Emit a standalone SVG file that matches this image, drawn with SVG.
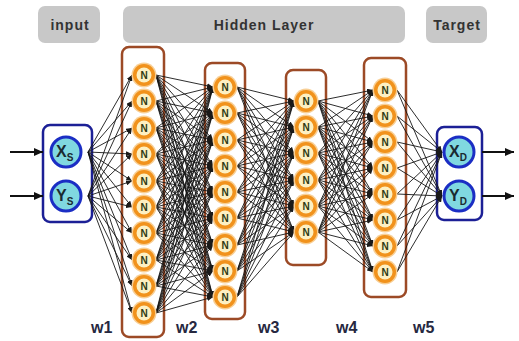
<svg xmlns="http://www.w3.org/2000/svg" width="519" height="341" viewBox="0 0 519 341">
<style>
.hdr{fill:#c8c8c8}
.ht{font-family:"Liberation Sans",Arial,sans-serif;font-weight:bold;font-size:14px;fill:#333;text-anchor:middle;letter-spacing:1px}
.lay{fill:#fff;stroke:#9c4a26;stroke-width:2.5}
.io{fill:#fff;stroke:#1c2096;stroke-width:2.5}
.halo{fill:#f8cf95}
.ring{fill:#f1921c}
.core{fill:#fdf0c2}
.nt{font-family:"Liberation Sans",Arial,sans-serif;font-weight:bold;font-size:10px;fill:#2f3a12;text-anchor:middle}
.ion{fill:#80d8e0;stroke:#1b2ec4;stroke-width:3}
.iot{font-family:"Liberation Sans",Arial,sans-serif;font-weight:bold;font-size:16px;fill:#1a2a30}
.sub{font-size:10px}
.w{font-family:"Liberation Sans",Arial,sans-serif;font-weight:bold;font-size:16px;fill:#262840}
#edges line{stroke:#151515;stroke-width:0.9;marker-end:url(#ah)}
.arr{stroke:#111;stroke-width:2;marker-end:url(#big)}
</style>
<defs>
<marker id="ah" markerUnits="userSpaceOnUse" markerWidth="6" markerHeight="5" refX="6" refY="2.5" orient="auto"><path d="M0,0L6,2.5L0,5z" fill="#1a1a1a"/></marker>
<marker id="big" markerUnits="userSpaceOnUse" markerWidth="9" markerHeight="8" refX="9" refY="4" orient="auto"><path d="M0,0L9,4L0,8z" fill="#111"/></marker>
<g id="nn"><circle r="12.5" class="halo"/><circle r="11" class="ring"/><circle r="7.5" class="core"/><text y="3.6" class="nt">N</text></g>
</defs>
<rect width="519" height="341" fill="#fff"/>
<g id="headers">
<g id="h-input"><rect class="hdr" x="38" y="6" width="62" height="37" rx="7"/><text class="ht" x="70" y="30">input</text></g>
<g id="h-hidden"><rect class="hdr" x="123" y="6" width="282" height="37" rx="7"/><text class="ht" x="264" y="30">Hidden Layer</text></g>
<g id="h-target"><rect class="hdr" x="426" y="6" width="61" height="37" rx="7"/><text class="ht" x="457" y="30">Target</text></g>
</g>
<g id="boxes">
<rect class="io" x="43" y="125" width="49" height="97" rx="7"/>
<rect class="lay" x="122" y="47" width="42" height="290" rx="7"/>
<rect class="lay" x="205" y="63" width="40" height="256" rx="7"/>
<rect class="lay" x="286" y="70" width="40" height="195" rx="7"/>
<rect class="lay" x="364" y="58" width="42" height="239" rx="7"/>
<rect class="io" x="437" y="127" width="45" height="93" rx="7"/>
</g>
<g id="edges">
<line x1="88" y1="152" x2="132" y2="75"/><line x1="88" y1="152" x2="132" y2="101"/><line x1="88" y1="152" x2="132" y2="128"/><line x1="88" y1="152" x2="132" y2="154"/><line x1="88" y1="152" x2="132" y2="181"/><line x1="88" y1="152" x2="132" y2="207"/><line x1="88" y1="152" x2="132" y2="233"/><line x1="88" y1="152" x2="132" y2="260"/><line x1="88" y1="152" x2="132" y2="286"/><line x1="88" y1="152" x2="132" y2="313"/>
<line x1="88" y1="196" x2="132" y2="75"/><line x1="88" y1="196" x2="132" y2="101"/><line x1="88" y1="196" x2="132" y2="128"/><line x1="88" y1="196" x2="132" y2="154"/><line x1="88" y1="196" x2="132" y2="181"/><line x1="88" y1="196" x2="132" y2="207"/><line x1="88" y1="196" x2="132" y2="233"/><line x1="88" y1="196" x2="132" y2="260"/><line x1="88" y1="196" x2="132" y2="286"/><line x1="88" y1="196" x2="132" y2="313"/>
<line x1="156" y1="75" x2="213" y2="87"/><line x1="156" y1="75" x2="213" y2="113"/><line x1="156" y1="75" x2="213" y2="140"/><line x1="156" y1="75" x2="213" y2="166"/><line x1="156" y1="75" x2="213" y2="192"/><line x1="156" y1="75" x2="213" y2="218"/><line x1="156" y1="75" x2="213" y2="245"/><line x1="156" y1="75" x2="213" y2="271"/><line x1="156" y1="75" x2="213" y2="297"/>
<line x1="156" y1="101" x2="213" y2="87"/><line x1="156" y1="101" x2="213" y2="113"/><line x1="156" y1="101" x2="213" y2="140"/><line x1="156" y1="101" x2="213" y2="166"/><line x1="156" y1="101" x2="213" y2="192"/><line x1="156" y1="101" x2="213" y2="218"/><line x1="156" y1="101" x2="213" y2="245"/><line x1="156" y1="101" x2="213" y2="271"/><line x1="156" y1="101" x2="213" y2="297"/>
<line x1="156" y1="128" x2="213" y2="87"/><line x1="156" y1="128" x2="213" y2="113"/><line x1="156" y1="128" x2="213" y2="140"/><line x1="156" y1="128" x2="213" y2="166"/><line x1="156" y1="128" x2="213" y2="192"/><line x1="156" y1="128" x2="213" y2="218"/><line x1="156" y1="128" x2="213" y2="245"/><line x1="156" y1="128" x2="213" y2="271"/><line x1="156" y1="128" x2="213" y2="297"/>
<line x1="156" y1="154" x2="213" y2="87"/><line x1="156" y1="154" x2="213" y2="113"/><line x1="156" y1="154" x2="213" y2="140"/><line x1="156" y1="154" x2="213" y2="166"/><line x1="156" y1="154" x2="213" y2="192"/><line x1="156" y1="154" x2="213" y2="218"/><line x1="156" y1="154" x2="213" y2="245"/><line x1="156" y1="154" x2="213" y2="271"/><line x1="156" y1="154" x2="213" y2="297"/>
<line x1="156" y1="181" x2="213" y2="87"/><line x1="156" y1="181" x2="213" y2="113"/><line x1="156" y1="181" x2="213" y2="140"/><line x1="156" y1="181" x2="213" y2="166"/><line x1="156" y1="181" x2="213" y2="192"/><line x1="156" y1="181" x2="213" y2="218"/><line x1="156" y1="181" x2="213" y2="245"/><line x1="156" y1="181" x2="213" y2="271"/><line x1="156" y1="181" x2="213" y2="297"/>
<line x1="156" y1="207" x2="213" y2="87"/><line x1="156" y1="207" x2="213" y2="113"/><line x1="156" y1="207" x2="213" y2="140"/><line x1="156" y1="207" x2="213" y2="166"/><line x1="156" y1="207" x2="213" y2="192"/><line x1="156" y1="207" x2="213" y2="218"/><line x1="156" y1="207" x2="213" y2="245"/><line x1="156" y1="207" x2="213" y2="271"/><line x1="156" y1="207" x2="213" y2="297"/>
<line x1="156" y1="233" x2="213" y2="87"/><line x1="156" y1="233" x2="213" y2="113"/><line x1="156" y1="233" x2="213" y2="140"/><line x1="156" y1="233" x2="213" y2="166"/><line x1="156" y1="233" x2="213" y2="192"/><line x1="156" y1="233" x2="213" y2="218"/><line x1="156" y1="233" x2="213" y2="245"/><line x1="156" y1="233" x2="213" y2="271"/><line x1="156" y1="233" x2="213" y2="297"/>
<line x1="156" y1="260" x2="213" y2="87"/><line x1="156" y1="260" x2="213" y2="113"/><line x1="156" y1="260" x2="213" y2="140"/><line x1="156" y1="260" x2="213" y2="166"/><line x1="156" y1="260" x2="213" y2="192"/><line x1="156" y1="260" x2="213" y2="218"/><line x1="156" y1="260" x2="213" y2="245"/><line x1="156" y1="260" x2="213" y2="271"/><line x1="156" y1="260" x2="213" y2="297"/>
<line x1="156" y1="286" x2="213" y2="87"/><line x1="156" y1="286" x2="213" y2="113"/><line x1="156" y1="286" x2="213" y2="140"/><line x1="156" y1="286" x2="213" y2="166"/><line x1="156" y1="286" x2="213" y2="192"/><line x1="156" y1="286" x2="213" y2="218"/><line x1="156" y1="286" x2="213" y2="245"/><line x1="156" y1="286" x2="213" y2="271"/><line x1="156" y1="286" x2="213" y2="297"/>
<line x1="156" y1="313" x2="213" y2="87"/><line x1="156" y1="313" x2="213" y2="113"/><line x1="156" y1="313" x2="213" y2="140"/><line x1="156" y1="313" x2="213" y2="166"/><line x1="156" y1="313" x2="213" y2="192"/><line x1="156" y1="313" x2="213" y2="218"/><line x1="156" y1="313" x2="213" y2="245"/><line x1="156" y1="313" x2="213" y2="271"/><line x1="156" y1="313" x2="213" y2="297"/>
<line x1="237" y1="87" x2="294" y2="101"/><line x1="237" y1="87" x2="294" y2="127"/><line x1="237" y1="87" x2="294" y2="153"/><line x1="237" y1="87" x2="294" y2="180"/><line x1="237" y1="87" x2="294" y2="206"/><line x1="237" y1="87" x2="294" y2="232"/>
<line x1="237" y1="113" x2="294" y2="101"/><line x1="237" y1="113" x2="294" y2="127"/><line x1="237" y1="113" x2="294" y2="153"/><line x1="237" y1="113" x2="294" y2="180"/><line x1="237" y1="113" x2="294" y2="206"/><line x1="237" y1="113" x2="294" y2="232"/>
<line x1="237" y1="140" x2="294" y2="101"/><line x1="237" y1="140" x2="294" y2="127"/><line x1="237" y1="140" x2="294" y2="153"/><line x1="237" y1="140" x2="294" y2="180"/><line x1="237" y1="140" x2="294" y2="206"/><line x1="237" y1="140" x2="294" y2="232"/>
<line x1="237" y1="166" x2="294" y2="101"/><line x1="237" y1="166" x2="294" y2="127"/><line x1="237" y1="166" x2="294" y2="153"/><line x1="237" y1="166" x2="294" y2="180"/><line x1="237" y1="166" x2="294" y2="206"/><line x1="237" y1="166" x2="294" y2="232"/>
<line x1="237" y1="192" x2="294" y2="101"/><line x1="237" y1="192" x2="294" y2="127"/><line x1="237" y1="192" x2="294" y2="153"/><line x1="237" y1="192" x2="294" y2="180"/><line x1="237" y1="192" x2="294" y2="206"/><line x1="237" y1="192" x2="294" y2="232"/>
<line x1="237" y1="218" x2="294" y2="101"/><line x1="237" y1="218" x2="294" y2="127"/><line x1="237" y1="218" x2="294" y2="153"/><line x1="237" y1="218" x2="294" y2="180"/><line x1="237" y1="218" x2="294" y2="206"/><line x1="237" y1="218" x2="294" y2="232"/>
<line x1="237" y1="245" x2="294" y2="101"/><line x1="237" y1="245" x2="294" y2="127"/><line x1="237" y1="245" x2="294" y2="153"/><line x1="237" y1="245" x2="294" y2="180"/><line x1="237" y1="245" x2="294" y2="206"/><line x1="237" y1="245" x2="294" y2="232"/>
<line x1="237" y1="271" x2="294" y2="101"/><line x1="237" y1="271" x2="294" y2="127"/><line x1="237" y1="271" x2="294" y2="153"/><line x1="237" y1="271" x2="294" y2="180"/><line x1="237" y1="271" x2="294" y2="206"/><line x1="237" y1="271" x2="294" y2="232"/>
<line x1="237" y1="297" x2="294" y2="101"/><line x1="237" y1="297" x2="294" y2="127"/><line x1="237" y1="297" x2="294" y2="153"/><line x1="237" y1="297" x2="294" y2="180"/><line x1="237" y1="297" x2="294" y2="206"/><line x1="237" y1="297" x2="294" y2="232"/>
<line x1="318" y1="101" x2="373" y2="90"/><line x1="318" y1="101" x2="373" y2="116"/><line x1="318" y1="101" x2="373" y2="142"/><line x1="318" y1="101" x2="373" y2="168"/><line x1="318" y1="101" x2="373" y2="194"/><line x1="318" y1="101" x2="373" y2="220"/><line x1="318" y1="101" x2="373" y2="246"/><line x1="318" y1="101" x2="373" y2="272"/>
<line x1="318" y1="127" x2="373" y2="90"/><line x1="318" y1="127" x2="373" y2="116"/><line x1="318" y1="127" x2="373" y2="142"/><line x1="318" y1="127" x2="373" y2="168"/><line x1="318" y1="127" x2="373" y2="194"/><line x1="318" y1="127" x2="373" y2="220"/><line x1="318" y1="127" x2="373" y2="246"/><line x1="318" y1="127" x2="373" y2="272"/>
<line x1="318" y1="153" x2="373" y2="90"/><line x1="318" y1="153" x2="373" y2="116"/><line x1="318" y1="153" x2="373" y2="142"/><line x1="318" y1="153" x2="373" y2="168"/><line x1="318" y1="153" x2="373" y2="194"/><line x1="318" y1="153" x2="373" y2="220"/><line x1="318" y1="153" x2="373" y2="246"/><line x1="318" y1="153" x2="373" y2="272"/>
<line x1="318" y1="180" x2="373" y2="90"/><line x1="318" y1="180" x2="373" y2="116"/><line x1="318" y1="180" x2="373" y2="142"/><line x1="318" y1="180" x2="373" y2="168"/><line x1="318" y1="180" x2="373" y2="194"/><line x1="318" y1="180" x2="373" y2="220"/><line x1="318" y1="180" x2="373" y2="246"/><line x1="318" y1="180" x2="373" y2="272"/>
<line x1="318" y1="206" x2="373" y2="90"/><line x1="318" y1="206" x2="373" y2="116"/><line x1="318" y1="206" x2="373" y2="142"/><line x1="318" y1="206" x2="373" y2="168"/><line x1="318" y1="206" x2="373" y2="194"/><line x1="318" y1="206" x2="373" y2="220"/><line x1="318" y1="206" x2="373" y2="246"/><line x1="318" y1="206" x2="373" y2="272"/>
<line x1="318" y1="232" x2="373" y2="90"/><line x1="318" y1="232" x2="373" y2="116"/><line x1="318" y1="232" x2="373" y2="142"/><line x1="318" y1="232" x2="373" y2="168"/><line x1="318" y1="232" x2="373" y2="194"/><line x1="318" y1="232" x2="373" y2="220"/><line x1="318" y1="232" x2="373" y2="246"/><line x1="318" y1="232" x2="373" y2="272"/>
<line x1="397" y1="90" x2="442" y2="152"/><line x1="397" y1="116" x2="442" y2="152"/><line x1="397" y1="142" x2="442" y2="152"/><line x1="397" y1="168" x2="442" y2="152"/><line x1="397" y1="194" x2="442" y2="152"/><line x1="397" y1="220" x2="442" y2="152"/><line x1="397" y1="246" x2="442" y2="152"/><line x1="397" y1="272" x2="442" y2="152"/>
<line x1="397" y1="90" x2="442" y2="196"/><line x1="397" y1="116" x2="442" y2="196"/><line x1="397" y1="142" x2="442" y2="196"/><line x1="397" y1="168" x2="442" y2="196"/><line x1="397" y1="194" x2="442" y2="196"/><line x1="397" y1="220" x2="442" y2="196"/><line x1="397" y1="246" x2="442" y2="196"/><line x1="397" y1="272" x2="442" y2="196"/>
</g>
<g id="io-arrows">
<line class="arr" x1="10" y1="152" x2="43" y2="152"/>
<line class="arr" x1="10" y1="196" x2="43" y2="196"/>
<line class="arr" x1="482" y1="152" x2="514" y2="152"/>
<line class="arr" x1="482" y1="196" x2="514" y2="196"/>
</g>
<g id="input-nodes">
<g id="xs"><circle class="ion" cx="66" cy="152" r="15"/><text class="iot" x="56" y="157">X<tspan class="sub" dy="4">S</tspan></text></g>
<g id="ys"><circle class="ion" cx="66" cy="196" r="15"/><text class="iot" x="56" y="201">Y<tspan class="sub" dy="4">S</tspan></text></g>
</g>
<g id="target-nodes">
<g id="xd"><circle class="ion" cx="459" cy="152" r="15"/><text class="iot" x="449" y="157">X<tspan class="sub" dy="4">D</tspan></text></g>
<g id="yd"><circle class="ion" cx="459" cy="196" r="15"/><text class="iot" x="449" y="201">Y<tspan class="sub" dy="4">D</tspan></text></g>
</g>
<g id="layer1">
<use href="#nn" x="144" y="75"/><use href="#nn" x="144" y="101"/><use href="#nn" x="144" y="128"/><use href="#nn" x="144" y="154"/><use href="#nn" x="144" y="181"/><use href="#nn" x="144" y="207"/><use href="#nn" x="144" y="233"/><use href="#nn" x="144" y="260"/><use href="#nn" x="144" y="286"/><use href="#nn" x="144" y="313"/>
</g>
<g id="layer2">
<use href="#nn" x="225" y="87"/><use href="#nn" x="225" y="113"/><use href="#nn" x="225" y="140"/><use href="#nn" x="225" y="166"/><use href="#nn" x="225" y="192"/><use href="#nn" x="225" y="218"/><use href="#nn" x="225" y="245"/><use href="#nn" x="225" y="271"/><use href="#nn" x="225" y="297"/>
</g>
<g id="layer3">
<use href="#nn" x="306" y="101"/><use href="#nn" x="306" y="127"/><use href="#nn" x="306" y="153"/><use href="#nn" x="306" y="180"/><use href="#nn" x="306" y="206"/><use href="#nn" x="306" y="232"/>
</g>
<g id="layer4">
<use href="#nn" x="385" y="90"/><use href="#nn" x="385" y="116"/><use href="#nn" x="385" y="142"/><use href="#nn" x="385" y="168"/><use href="#nn" x="385" y="194"/><use href="#nn" x="385" y="220"/><use href="#nn" x="385" y="246"/><use href="#nn" x="385" y="272"/>
</g>
<g id="weights">
<text class="w" x="91" y="333">w1</text>
<text class="w" x="176" y="333">w2</text>
<text class="w" x="258" y="333">w3</text>
<text class="w" x="336" y="333">w4</text>
<text class="w" x="413" y="333">w5</text>
</g>
</svg>
